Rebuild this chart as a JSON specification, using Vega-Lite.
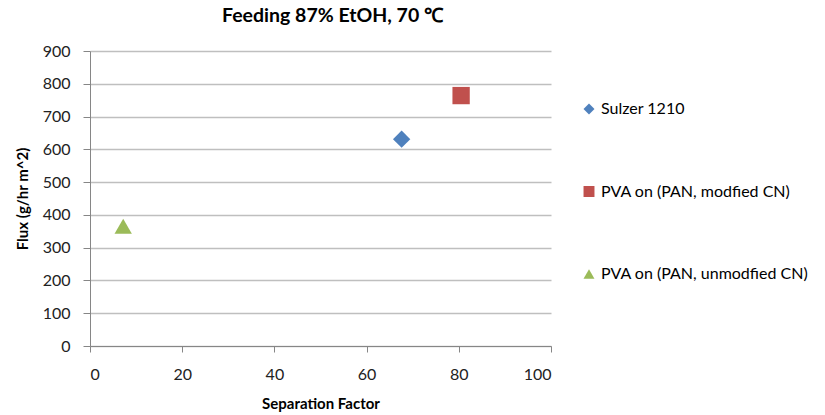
{
  "$schema": "https://vega.github.io/schema/vega-lite/v6.json",
  "autosize": "none",
  "width": 461,
  "height": 295,
  "padding": {"left": 90, "top": 51, "right": 274, "bottom": 69},
  "background": "white",
  "title": {
    "text": "Feeding 87% EtOH, 70 ℃",
    "font": "Lato",
    "fontSize": 19.5,
    "fontWeight": "bold",
    "color": "#000000",
    "anchor": "middle",
    "dx": 12,
    "offset": 17
  },
  "data": {
    "values": [
      {"series": "Sulzer 1210", "sep": 67.6, "flux": 631},
      {"series": "PVA on (PAN, modfied CN)", "sep": 80.5, "flux": 764},
      {"series": "PVA on (PAN, unmodfied CN)", "sep": 7.2, "flux": 365}
    ]
  },
  "mark": {"type": "point", "filled": true, "opacity": 1, "size": 300},
  "encoding": {
    "x": {
      "field": "sep",
      "type": "quantitative",
      "title": "Separation Factor",
      "scale": {"domain": [0, 100], "nice": false, "zero": true},
      "axis": {
        "values": [0, 20, 40, 60, 80, 100],
        "grid": false,
        "tickSize": 6,
        "labelPadding": 14
      }
    },
    "y": {
      "field": "flux",
      "type": "quantitative",
      "title": "Flux (g/hr m^2)",
      "scale": {"domain": [0, 900], "nice": false},
      "axis": {
        "values": [0, 100, 200, 300, 400, 500, 600, 700, 800, 900],
        "grid": true,
        "tickSize": 7,
        "labelPadding": 13
      }
    },
    "color": {
      "field": "series",
      "type": "nominal",
      "scale": {
        "domain": ["Sulzer 1210", "PVA on (PAN, modfied CN)", "PVA on (PAN, unmodfied CN)"],
        "range": ["#4F81BD", "#C0504D", "#9BBB59"]
      },
      "legend": {
        "title": null,
        "orient": "none",
        "legendX": 491,
        "legendY": 50,
        "padding": 0,
        "rowPadding": 66.5,
        "symbolSize": 120,
        "labelOffset": 4,
        "labelLimit": 400,
        "labelFont": "Lato",
        "labelFontSize": 16,
        "labelColor": "#000000",
        "symbolStrokeWidth": 0
      }
    },
    "shape": {
      "field": "series",
      "type": "nominal",
      "scale": {
        "domain": ["Sulzer 1210", "PVA on (PAN, modfied CN)", "PVA on (PAN, unmodfied CN)"],
        "range": ["diamond", "square", "triangle-up"]
      },
      "legend": null
    }
  },
  "config": {
    "view": {"stroke": null},
    "axis": {
      "labelFont": "Lato",
      "labelFontSize": 16,
      "labelColor": "#222222",
      "titleFont": "Lato",
      "titleFontSize": 15,
      "titleFontWeight": "bold",
      "titleColor": "#000000",
      "domainColor": "#868686",
      "tickColor": "#868686",
      "gridColor": "#BFBFBF",
      "gridWidth": 1.3
    },
    "axisX": {"titlePadding": 14},
    "axisY": {"titlePadding": 12}
  }
}
